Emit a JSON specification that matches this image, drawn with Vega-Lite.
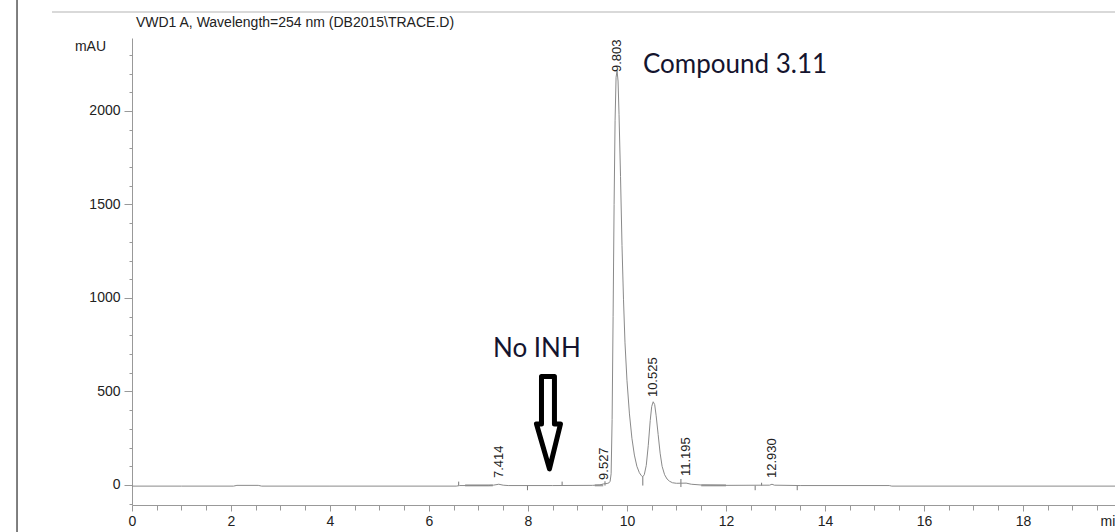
{
  "$schema": "https://vega.github.io/schema/vega-lite/v6.json",
  "width": 983,
  "height": 467,
  "autosize": {"type": "none"},
  "padding": {"left": 132, "top": 38, "right": 0, "bottom": 27},
  "background": "white",
  "config": {"view": {"stroke": null}, "font": "Liberation Sans", "axis": {"grid": false}},
  "resolve": {"axis": {"x": "independent", "y": "independent"}},
  "datasets": {
    "trace": [
      {"t": 0, "v": -6}, {"t": 1.0, "v": -6}, {"t": 2.05, "v": -6}, {"t": 2.12, "v": -2}, {"t": 2.55, "v": -2}, {"t": 2.62, "v": -6},
      {"t": 4.0, "v": -6}, {"t": 6.55, "v": -6}, {"t": 6.62, "v": -3}, {"t": 7.2, "v": -3}, {"t": 7.3, "v": -1}, {"t": 7.41, "v": 4},
      {"t": 7.5, "v": -1}, {"t": 7.6, "v": -3}, {"t": 8.5, "v": -3}, {"t": 9.3, "v": -2}, {"t": 9.45, "v": 0}, {"t": 9.527, "v": 6},
      {"t": 9.6, "v": 8}, {"t": 9.64, "v": 12}, {"t": 9.66, "v": 20}, {"t": 9.68, "v": 60}, {"t": 9.7, "v": 350}, {"t": 9.72, "v": 900},
      {"t": 9.74, "v": 1500}, {"t": 9.76, "v": 1950}, {"t": 9.78, "v": 2180}, {"t": 9.8, "v": 2215}, {"t": 9.82, "v": 2160},
      {"t": 9.84, "v": 1980}, {"t": 9.87, "v": 1650}, {"t": 9.9, "v": 1280}, {"t": 9.93, "v": 990}, {"t": 9.96, "v": 760},
      {"t": 10.0, "v": 560}, {"t": 10.05, "v": 380}, {"t": 10.1, "v": 250}, {"t": 10.15, "v": 160}, {"t": 10.2, "v": 100},
      {"t": 10.25, "v": 66}, {"t": 10.29, "v": 50}, {"t": 10.32, "v": 44}, {"t": 10.35, "v": 55}, {"t": 10.39, "v": 105},
      {"t": 10.43, "v": 210}, {"t": 10.47, "v": 345}, {"t": 10.5, "v": 420}, {"t": 10.53, "v": 445}, {"t": 10.56, "v": 430},
      {"t": 10.59, "v": 370}, {"t": 10.63, "v": 270}, {"t": 10.67, "v": 170}, {"t": 10.71, "v": 100}, {"t": 10.76, "v": 55},
      {"t": 10.81, "v": 32}, {"t": 10.86, "v": 20}, {"t": 10.92, "v": 12}, {"t": 11.0, "v": 9}, {"t": 11.195, "v": 10},
      {"t": 11.3, "v": 4}, {"t": 11.5, "v": 0}, {"t": 12.0, "v": -2}, {"t": 12.88, "v": -1}, {"t": 12.93, "v": 4},
      {"t": 12.98, "v": -1}, {"t": 13.5, "v": -3}, {"t": 15.3, "v": -3}, {"t": 15.35, "v": -6}, {"t": 19.86, "v": -6}
    ],
    "peaks": [
      {"t": 7.414, "v": 37, "lbl": "7.414"},
      {"t": 9.527, "v": 27, "lbl": "9.527"},
      {"t": 9.803, "v": 2208, "lbl": "9.803"},
      {"t": 10.525, "v": 470, "lbl": "10.525"},
      {"t": 11.195, "v": 48, "lbl": "11.195"},
      {"t": 12.93, "v": 37, "lbl": "12.930"}
    ],
    "events": [
      {"t": 6.6, "v1": -3, "v2": 18}, {"t": 7.99, "v1": -3, "v2": -28}, {"t": 8.69, "v1": -3, "v2": 18},
      {"t": 9.556, "v1": -3, "v2": 20}, {"t": 10.32, "v1": -3, "v2": 44}, {"t": 11.09, "v1": -11, "v2": 32},
      {"t": 12.59, "v1": -3, "v2": -28}, {"t": 12.72, "v1": -3, "v2": 12}, {"t": 13.44, "v1": -3, "v2": -28}
    ],
    "segs": [
      {"t": 6.73, "t2": 7.29, "v": -2}, {"t": 9.35, "t2": 9.52, "v": -2}, {"t": 11.5, "t2": 12.0, "v": -2}
    ],
    "frame": [
      {"t": -1.616, "t2": 19.86, "v": 2529, "v2": 2529, "kind": "top"},
      {"t": -2.323, "t2": -2.323, "v": 2600, "v2": -260, "kind": "left"}
    ],
    "arrow": [
      {"o": 1, "t": 8.273, "v": 580}, {"o": 2, "t": 8.535, "v": 580}, {"o": 3, "t": 8.535, "v": 326},
      {"o": 4, "t": 8.657, "v": 326}, {"o": 5, "t": 8.434, "v": 86}, {"o": 6, "t": 8.172, "v": 326},
      {"o": 7, "t": 8.273, "v": 326}, {"o": 8, "t": 8.273, "v": 580}
    ],
    "notes": [
      {"t": 10.324, "v": 2201, "txt": "Compound 3.11"},
      {"t": 7.293, "v": 684, "txt": "No INH"}
    ],
    "head": [
      {"t": 0.08, "v": 2449, "txt": "VWD1 A, Wavelength=254 nm (DB2015\\TRACE.D)"}
    ]
  },
  "layer": [
    {
      "data": {"name": "frame"},
      "mark": {"type": "rule", "strokeWidth": 1.5},
      "encoding": {
        "x": {"field": "t", "type": "quantitative", "scale": {"domain": [0, 19.86], "nice": false, "zero": false}, "axis": null},
        "x2": {"field": "t2"},
        "y": {"field": "v", "type": "quantitative", "scale": {"domain": [-107, 2390], "nice": false, "zero": false}, "axis": null},
        "y2": {"field": "v2"},
        "color": {"field": "kind", "type": "nominal", "scale": {"domain": ["top", "left"], "range": ["#cccccc", "#555555"]}, "legend": null}
      }
    },
    {
      "data": {"name": "segs"},
      "mark": {"type": "rule", "strokeWidth": 2, "color": "#a0a0a0"},
      "encoding": {
        "x": {"field": "t", "type": "quantitative", "scale": {"domain": [0, 19.86], "nice": false, "zero": false}, "axis": null},
        "x2": {"field": "t2"},
        "y": {"field": "v", "type": "quantitative", "scale": {"domain": [-107, 2390], "nice": false, "zero": false}, "axis": null}
      }
    },
    {
      "data": {"name": "events"},
      "mark": {"type": "rule", "strokeWidth": 1, "color": "#777777"},
      "encoding": {
        "x": {"field": "t", "type": "quantitative", "scale": {"domain": [0, 19.86], "nice": false, "zero": false},
          "axis": {"orient": "bottom", "values": [0.5, 1, 1.5, 2.5, 3, 3.5, 4.5, 5, 5.5, 6.5, 7, 7.5, 8.5, 9, 9.5, 10.5, 11, 11.5, 12.5, 13, 13.5, 14.5, 15, 15.5, 16.5, 17, 17.5, 18.5, 19, 19.5],
            "labels": false, "domain": false, "tickSize": 5, "tickColor": "#999999", "title": null}},
        "y": {"field": "v1", "type": "quantitative", "scale": {"domain": [-107, 2390], "nice": false, "zero": false},
          "axis": {"orient": "left", "values": [-100, 100, 200, 300, 400, 600, 700, 800, 900, 1100, 1200, 1300, 1400, 1600, 1700, 1800, 1900, 2100, 2200, 2300],
            "labels": false, "domain": false, "tickSize": 3, "tickColor": "#999999", "title": null}},
        "y2": {"field": "v2"}
      }
    },
    {
      "data": {"name": "trace"},
      "mark": {"type": "line", "strokeWidth": 1, "color": "#8a8a8a", "interpolate": "linear"},
      "encoding": {
        "x": {"field": "t", "type": "quantitative", "scale": {"domain": [0, 19.86], "nice": false, "zero": false},
          "axis": {"orient": "bottom", "values": [0, 2, 4, 6, 8, 10, 12, 14, 16, 18], "format": "d", "labelFontSize": 14, "labelColor": "#222222",
            "labelPadding": 3, "labelFlush": false, "labelOverlap": false, "tickSize": 6, "tickColor": "#999999", "domainColor": "#999999",
            "title": "min", "titleX": 968, "titleY": 16, "titleAlign": "left", "titleBaseline": "middle", "titleAnchor": null,
            "titleFontSize": 14, "titleFontWeight": "normal", "titleColor": "#222222"}},
        "y": {"field": "v", "type": "quantitative", "scale": {"domain": [-107, 2390], "nice": false, "zero": false},
          "axis": {"orient": "left", "values": [0, 500, 1000, 1500, 2000], "format": "d", "labelFontSize": 14, "labelColor": "#222222",
            "labelPadding": 4, "labelFlush": false, "labelOverlap": false, "tickSize": 8, "tickColor": "#999999", "domainColor": "#999999",
            "title": "mAU", "titleAngle": 0, "titleX": -42, "titleY": 8, "titleAlign": "center", "titleBaseline": "middle", "titleAnchor": null,
            "titleFontSize": 14, "titleFontWeight": "normal", "titleColor": "#222222"}},
        "order": {"field": "t", "type": "quantitative"}
      }
    },
    {
      "data": {"name": "peaks"},
      "mark": {"type": "text", "angle": 270, "align": "left", "baseline": "middle", "fontSize": 13, "color": "#222222", "font": "Liberation Sans"},
      "encoding": {
        "x": {"field": "t", "type": "quantitative", "scale": {"domain": [0, 19.86], "nice": false, "zero": false}, "axis": null},
        "y": {"field": "v", "type": "quantitative", "scale": {"domain": [-107, 2390], "nice": false, "zero": false}, "axis": null},
        "text": {"field": "lbl"}
      }
    },
    {
      "data": {"name": "arrow"},
      "mark": {"type": "line", "strokeWidth": 5, "color": "#000000", "strokeJoin": "round", "strokeCap": "round"},
      "encoding": {
        "x": {"field": "t", "type": "quantitative", "scale": {"domain": [0, 19.86], "nice": false, "zero": false}, "axis": null},
        "y": {"field": "v", "type": "quantitative", "scale": {"domain": [-107, 2390], "nice": false, "zero": false}, "axis": null},
        "order": {"field": "o", "type": "quantitative"}
      }
    },
    {
      "data": {"name": "notes"},
      "mark": {"type": "text", "align": "left", "baseline": "alphabetic", "fontSize": 26, "font": "Lato", "color": "#14142e"},
      "encoding": {
        "x": {"field": "t", "type": "quantitative", "scale": {"domain": [0, 19.86], "nice": false, "zero": false}, "axis": null},
        "y": {"field": "v", "type": "quantitative", "scale": {"domain": [-107, 2390], "nice": false, "zero": false}, "axis": null},
        "text": {"field": "txt"}
      }
    },
    {
      "data": {"name": "head"},
      "mark": {"type": "text", "align": "left", "baseline": "alphabetic", "fontSize": 14, "font": "Liberation Sans", "color": "#222222"},
      "encoding": {
        "x": {"field": "t", "type": "quantitative", "scale": {"domain": [0, 19.86], "nice": false, "zero": false}, "axis": null},
        "y": {"field": "v", "type": "quantitative", "scale": {"domain": [-107, 2390], "nice": false, "zero": false}, "axis": null},
        "text": {"field": "txt"}
      }
    }
  ]
}
